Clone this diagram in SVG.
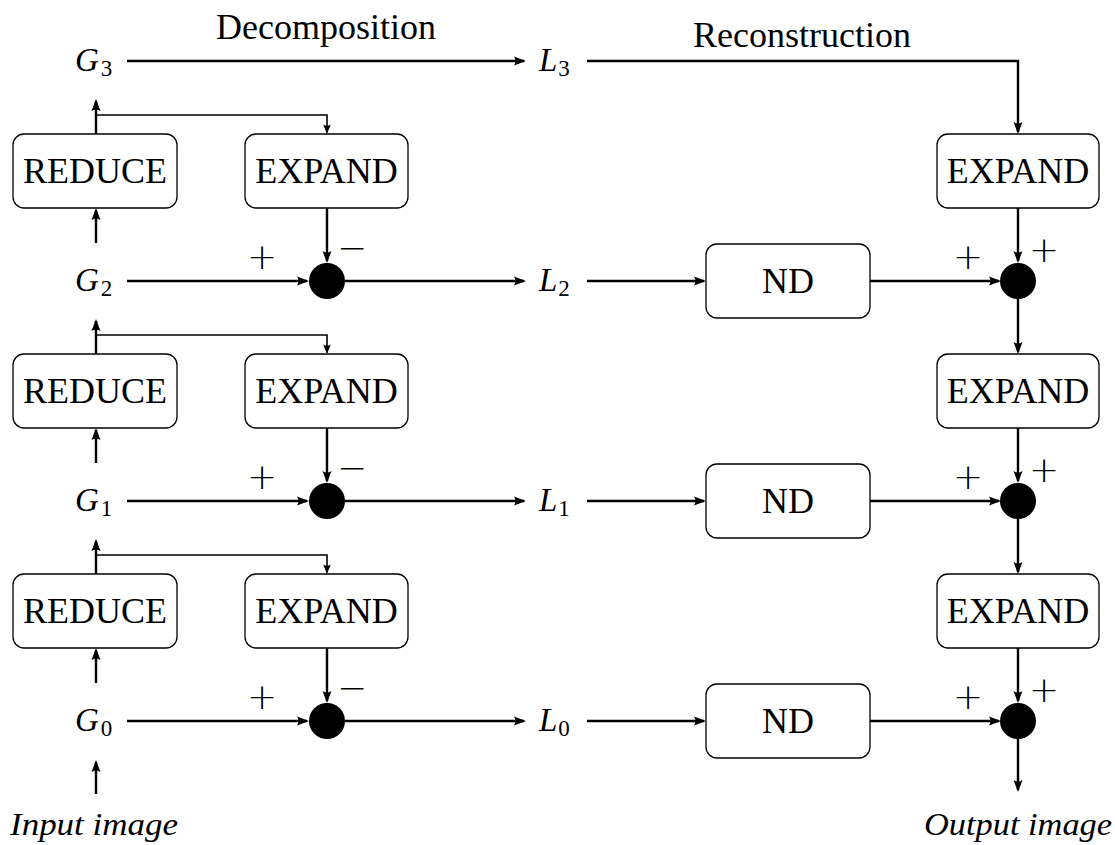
<svg xmlns="http://www.w3.org/2000/svg" width="1115" height="845" viewBox="0 0 1115 845">
<style>
.box{fill:#fff;stroke:#000;stroke-width:1.3}
.ln{fill:none;stroke:#000;stroke-width:2.4}
.thin{fill:none;stroke:#000;stroke-width:1.6}
.t{font-family:"Liberation Serif","Times New Roman",serif;font-size:36px;text-anchor:middle;fill:#000}
.m{font-family:"Liberation Serif","Times New Roman",serif;font-size:33px;font-style:italic;fill:#000}
.s{font-style:normal;font-size:23px}
.pm{font-family:"DejaVu Sans",sans-serif;font-size:36px;font-weight:200;text-anchor:middle;fill:#000}
.it{font-family:"Liberation Serif","Times New Roman",serif;font-size:31px;font-style:italic;fill:#000}
</style>
<defs>
<marker id="a" viewBox="-11 -6 14 12" refX="0" refY="0" markerWidth="14" markerHeight="12" markerUnits="userSpaceOnUse" orient="auto">
<path d="M2,0 L-10,-4.5 Q-7,0 -10,4.5 Z" fill="#000"/>
</marker>
<marker id="b" viewBox="-9 -5 11 10" refX="0" refY="0" markerWidth="11" markerHeight="10" markerUnits="userSpaceOnUse" orient="auto">
<path d="M1.5,0 L-8,-3.8 Q-5.5,0 -8,3.8 Z" fill="#000"/>
</marker>
</defs>
<rect width="1115" height="845" fill="#fff"/>

<g id="titles">
<text class="t" x="326" y="39">Decomposition</text>
<text class="t" x="802" y="47">Reconstruction</text>
</g>

<g id="labels">
<text class="m" x="75" y="71">G<tspan class="s" dx="2" dy="5">3</tspan></text>
<text class="m" x="75" y="291">G<tspan class="s" dx="2" dy="5">2</tspan></text>
<text class="m" x="75" y="511">G<tspan class="s" dx="2" dy="5">1</tspan></text>
<text class="m" x="75" y="731">G<tspan class="s" dx="2" dy="5">0</tspan></text>
<text class="m" x="539" y="71">L<tspan class="s" dx="1" dy="5">3</tspan></text>
<text class="m" x="539" y="291">L<tspan class="s" dx="1" dy="5">2</tspan></text>
<text class="m" x="539" y="511">L<tspan class="s" dx="1" dy="5">1</tspan></text>
<text class="m" x="539" y="731">L<tspan class="s" dx="1" dy="5">0</tspan></text>
<text class="it" x="10" y="835" textLength="168" lengthAdjust="spacingAndGlyphs">Input image</text>
<text class="it" x="924" y="835" textLength="188" lengthAdjust="spacingAndGlyphs">Output image</text>
</g>

<g id="reduce2"><rect class="box" x="13" y="134" width="164" height="74" rx="11"/><text class="t" x="95" y="183">REDUCE</text></g>
<g id="expandL2"><rect class="box" x="245" y="134" width="163" height="74" rx="11"/><text class="t" x="326.5" y="183">EXPAND</text></g>
<g id="reduce1"><rect class="box" x="13" y="354" width="164" height="74" rx="11"/><text class="t" x="95" y="403">REDUCE</text></g>
<g id="expandL1"><rect class="box" x="245" y="354" width="163" height="74" rx="11"/><text class="t" x="326.5" y="403">EXPAND</text></g>
<g id="reduce0"><rect class="box" x="13" y="574" width="164" height="74" rx="11"/><text class="t" x="95" y="623">REDUCE</text></g>
<g id="expandL0"><rect class="box" x="245" y="574" width="163" height="74" rx="11"/><text class="t" x="326.5" y="623">EXPAND</text></g>

<g id="expandR3"><rect class="box" x="937" y="134" width="162" height="74" rx="11"/><text class="t" x="1018" y="183">EXPAND</text></g>
<g id="expandR2"><rect class="box" x="937" y="354" width="162" height="74" rx="11"/><text class="t" x="1018" y="403">EXPAND</text></g>
<g id="expandR1"><rect class="box" x="937" y="574" width="162" height="74" rx="11"/><text class="t" x="1018" y="623">EXPAND</text></g>

<g id="nd2"><rect class="box" x="706" y="244" width="164" height="74" rx="11"/><text class="t" x="788" y="293">ND</text></g>
<g id="nd1"><rect class="box" x="706" y="464" width="164" height="74" rx="11"/><text class="t" x="788" y="513">ND</text></g>
<g id="nd0"><rect class="box" x="706" y="684" width="164" height="74" rx="11"/><text class="t" x="788" y="733">ND</text></g>

<g id="sums">
<circle cx="327" cy="281" r="18"/>
<circle cx="327" cy="501" r="18"/>
<circle cx="327" cy="721" r="18"/>
<circle cx="1018" cy="281" r="18"/>
<circle cx="1018" cy="501" r="18"/>
<circle cx="1018" cy="721" r="18"/>
</g>

<g id="signs">
<text class="pm" x="262" y="269">+</text><text class="pm" x="352" y="260">−</text>
<text class="pm" x="262" y="489">+</text><text class="pm" x="352" y="480">−</text>
<text class="pm" x="262" y="709">+</text><text class="pm" x="352" y="700">−</text>
<text class="pm" x="968" y="269">+</text><text class="pm" x="1044" y="262">+</text>
<text class="pm" x="968" y="489">+</text><text class="pm" x="1044" y="482">+</text>
<text class="pm" x="968" y="709">+</text><text class="pm" x="1044" y="702">+</text>
</g>

<g id="connectors">
<path class="ln" d="M127,61 H524" marker-end="url(#a)"/>
<path class="ln" d="M587,61 H1018 V132" marker-end="url(#a)"/>
<path class="ln" d="M96,794 V762" marker-end="url(#a)"/>
<path class="ln" d="M1018,739 V790" marker-end="url(#a)"/>

<path class="ln" d="M96,134 V101" marker-end="url(#a)"/>
<path class="thin" d="M96,115 H327 V132.5" marker-end="url(#b)"/>
<path class="ln" d="M96,243 V210" marker-end="url(#a)"/>
<path class="ln" d="M327,208 V261" marker-end="url(#a)"/>
<path class="ln" d="M127,281 H307" marker-end="url(#a)"/>
<path class="ln" d="M345,281 H524" marker-end="url(#a)"/>
<path class="ln" d="M587,281 H704" marker-end="url(#a)"/>
<path class="ln" d="M870,281 H999" marker-end="url(#a)"/>
<path class="ln" d="M1018,208 V261" marker-end="url(#a)"/>
<path class="ln" d="M1018,299 V352" marker-end="url(#a)"/>

<path class="ln" d="M96,354 V321" marker-end="url(#a)"/>
<path class="thin" d="M96,335 H327 V352.5" marker-end="url(#b)"/>
<path class="ln" d="M96,463 V430" marker-end="url(#a)"/>
<path class="ln" d="M327,428 V481" marker-end="url(#a)"/>
<path class="ln" d="M127,501 H307" marker-end="url(#a)"/>
<path class="ln" d="M345,501 H524" marker-end="url(#a)"/>
<path class="ln" d="M587,501 H704" marker-end="url(#a)"/>
<path class="ln" d="M870,501 H999" marker-end="url(#a)"/>
<path class="ln" d="M1018,428 V481" marker-end="url(#a)"/>
<path class="ln" d="M1018,519 V572" marker-end="url(#a)"/>

<path class="ln" d="M96,574 V541" marker-end="url(#a)"/>
<path class="thin" d="M96,555 H327 V572.5" marker-end="url(#b)"/>
<path class="ln" d="M96,683 V650" marker-end="url(#a)"/>
<path class="ln" d="M327,648 V701" marker-end="url(#a)"/>
<path class="ln" d="M127,721 H307" marker-end="url(#a)"/>
<path class="ln" d="M345,721 H524" marker-end="url(#a)"/>
<path class="ln" d="M587,721 H704" marker-end="url(#a)"/>
<path class="ln" d="M870,721 H999" marker-end="url(#a)"/>
<path class="ln" d="M1018,648 V701" marker-end="url(#a)"/>
</g>
</svg>
